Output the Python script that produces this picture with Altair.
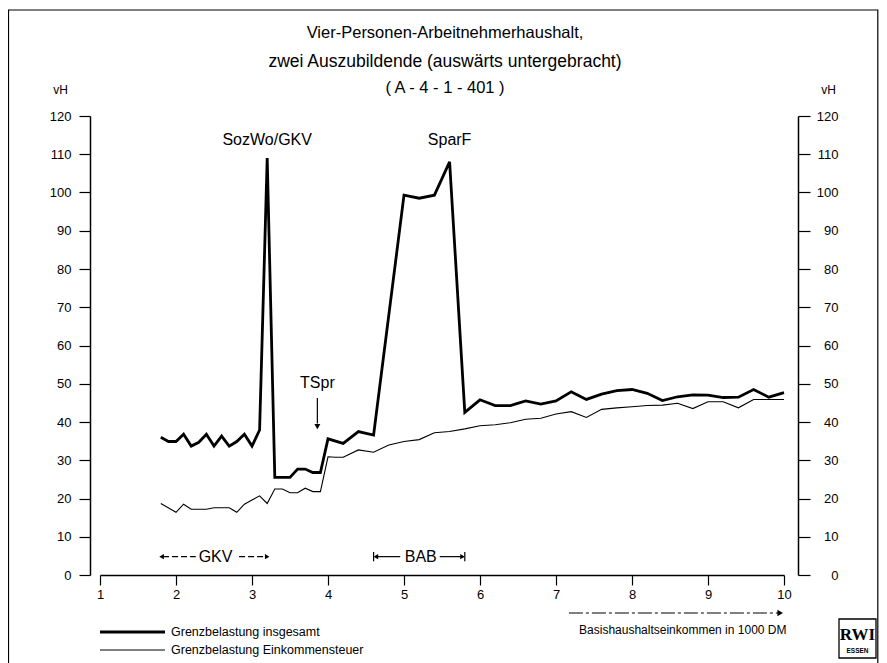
import altair as alt
import pandas as pd

# ---------------- data ----------------
x_total = [1.8, 1.9, 2.0, 2.1, 2.2, 2.3, 2.4, 2.5, 2.6, 2.7, 2.8, 2.9, 3.0, 3.1, 3.2,
           3.3, 3.4, 3.5, 3.6, 3.7, 3.8, 3.9, 4.0, 4.2, 4.4, 4.6, 5.0, 5.2, 5.4, 5.6,
           5.8, 6.0, 6.2, 6.4, 6.6, 6.8, 7.0, 7.2, 7.4, 7.6, 7.8, 8.0, 8.2, 8.4, 8.6,
           8.8, 9.0, 9.2, 9.4, 9.6, 9.8, 10.0]
y_total = [36.0, 34.9, 34.9, 36.8, 33.7, 34.7, 36.8, 33.7, 36.3, 33.7, 34.9, 36.8, 33.7, 37.9, 109.0,
           25.5, 25.5, 25.5, 27.7, 27.7, 26.8, 26.8, 35.6, 34.4, 37.5, 36.6, 99.3, 98.5, 99.3, 108.0,
           42.5, 45.8, 44.3, 44.3, 45.5, 44.7, 45.5, 47.9, 45.9, 47.3, 48.2, 48.5, 47.5, 45.6, 46.6,
           47.1, 47.0, 46.4, 46.5, 48.5, 46.5, 47.7]

x_tax = [1.8, 2.0, 2.1, 2.2, 2.3, 2.4, 2.5, 2.6, 2.7, 2.8, 2.9, 3.0, 3.1, 3.2, 3.3,
         3.4, 3.5, 3.6, 3.7, 3.8, 3.9, 4.0, 4.1, 4.2, 4.4, 4.6, 4.8, 5.0, 5.2, 5.4,
         5.6, 5.8, 6.0, 6.2, 6.4, 6.6, 6.8, 7.0, 7.2, 7.4, 7.6, 7.8, 8.0, 8.2, 8.4,
         8.6, 8.8, 9.0, 9.2, 9.4, 9.6, 9.8, 10.0]
y_tax = [18.7, 16.4, 18.5, 17.2, 17.2, 17.2, 17.6, 17.6, 17.6, 16.4, 18.5, 19.6, 20.7, 18.7, 22.5,
         22.5, 21.5, 21.5, 22.7, 21.8, 21.8, 30.9, 30.8, 30.8, 32.7, 32.1, 34.0, 34.9, 35.4, 37.2,
         37.5, 38.2, 39.0, 39.3, 39.8, 40.7, 41.0, 42.1, 42.7, 41.2, 43.3, 43.7, 44.0, 44.3, 44.4,
         44.9, 43.5, 45.3, 45.3, 43.7, 45.9, 45.9, 45.9]

x_ticks = [1, 2, 3, 4, 5, 6, 7, 8, 9, 10]
y_ticks = [0, 10, 20, 30, 40, 50, 60, 70, 80, 90, 100, 110, 120]

title_lines = ["Vier-Personen-Arbeitnehmerhaushalt,",
               "zwei Auszubildende (auswärts untergebracht)",
               "( A - 4 - 1 - 401 )"]
unit_label = "vH"
x_title = "Basishaushaltseinkommen in 1000 DM"
legend_labels = ["Grenzbelastung insgesamt", "Grenzbelastung Einkommensteuer"]

ann_text = ["SozWo/GKV", "SparF", "TSpr"]
ann_x = [3.2, 5.6, 3.86]
ann_y = [113.7, 113.7, 50.2]

tspr_arrow_x = [3.86]
tspr_arrow_y1 = [46.3]
tspr_arrow_y2 = [39.6]
tspr_head_y = [38.8]

span_text = ["GKV", "BAB"]
span_x = [2.52, 5.22]
span_y = [4.8, 4.8]

gkv_seg_x1 = [1.83, 2.83]
gkv_seg_x2 = [2.26, 3.18]
bab_seg_x1 = [4.62, 5.47]
bab_seg_x2 = [4.95, 5.78]
seg_y = [4.8, 4.8]
head_x = [1.81, 3.2, 4.63, 5.77]
head_y = [4.8, 4.8, 4.8, 4.8]
head_shape = ["triangle-left", "triangle-right", "triangle-left", "triangle-right"]
bab_bar_x = [4.60, 5.80]
bab_bar_y1 = [3.6, 3.6]
bab_bar_y2 = [6.0, 6.0]

income_arrow_x1 = [7.17]
income_arrow_x2 = [9.95]

logo_main = "RWI"
logo_sub = "ESSEN"

# ---------------- layout ----------------
W, H = 684, 459
FONT = "Liberation Sans, DejaVu Sans, sans-serif"

xs = alt.Scale(domain=[1, 10], nice=False, zero=False)
ys = alt.Scale(domain=[0, 120], nice=False, zero=False)

common_axis = dict(grid=False, domainColor="black", tickColor="black", labelColor="black",
                   titleColor="black", labelFont=FONT, titleFont=FONT, labelFontSize=13,
                   titleFontSize=12, titleFontWeight="normal", domainWidth=1.5, tickWidth=1.2)

x_axis = alt.Axis(values=x_ticks, format="d", tickSize=10, labelPadding=3, labelFlush=False,
                  title=x_title, titleX=686, titleY=54, titleAlign="right",
                  titleBaseline="middle", **common_axis)
left_axis = alt.Axis(orient="left", values=y_ticks, offset=10, tickSize=11, labelPadding=8,
                     labelFlush=False, title=unit_label, titleAngle=0, titleX=-30, titleY=-27,
                     titleAlign="center", titleBaseline="middle", **common_axis)
right_axis = alt.Axis(orient="right", values=y_ticks, offset=14, tickSize=12, labelPadding=28,
                      labelAlign="right", labelFlush=False, title=unit_label, titleAngle=0,
                      titleX=30, titleY=-27, titleAlign="center", titleBaseline="middle",
                      **common_axis)


def xq(f):
    return alt.X(f + ":Q", scale=xs, axis=x_axis)


def yq(f):
    return alt.Y(f + ":Q", scale=ys, axis=None)


total_df = pd.DataFrame({"x": x_total, "y": y_total})
tax_df = pd.DataFrame({"x": x_tax, "y": y_tax})

thick = alt.Chart(total_df).mark_line(color="black", strokeWidth=2.8, strokeJoin="miter").encode(
    x=xq("x"),
    y=alt.Y("y:Q", scale=ys, axis=left_axis),
)
thin = alt.Chart(tax_df).mark_line(color="black", strokeWidth=1.1, strokeJoin="miter").encode(
    x=xq("x"),
    y=alt.Y("y:Q", scale=ys, axis=right_axis),
)

# annotations
ann_df = pd.DataFrame({"t": ann_text, "x": ann_x, "y": ann_y})
ann = alt.Chart(ann_df).mark_text(font=FONT, fontSize=16, color="black", baseline="middle").encode(
    x=xq("x"), y=yq("y"), text="t:N")

tspr_df = pd.DataFrame({"x": tspr_arrow_x, "y1": tspr_arrow_y1, "y2": tspr_arrow_y2, "yh": tspr_head_y})
tspr_rule = alt.Chart(tspr_df).mark_rule(color="black", strokeWidth=1.2).encode(
    x=xq("x"), y=yq("y1"), y2="y2:Q")
tspr_head = alt.Chart(tspr_df).mark_point(shape="triangle-down", filled=True, color="black",
                                          size=35, opacity=1).encode(x=xq("x"), y=yq("yh"))

span_df = pd.DataFrame({"t": span_text, "x": span_x, "y": span_y})
span = alt.Chart(span_df).mark_text(font=FONT, fontSize=16, color="black", baseline="middle").encode(
    x=xq("x"), y=yq("y"), text="t:N")

gkv_df = pd.DataFrame({"x1": gkv_seg_x1, "x2": gkv_seg_x2, "y": seg_y})
gkv_rule = alt.Chart(gkv_df).mark_rule(color="black", strokeWidth=1.2, strokeDash=[6, 3]).encode(
    x=xq("x1"), x2="x2:Q", y=yq("y"))
bab_df = pd.DataFrame({"x1": bab_seg_x1, "x2": bab_seg_x2, "y": seg_y})
bab_rule = alt.Chart(bab_df).mark_rule(color="black", strokeWidth=1.2).encode(
    x=xq("x1"), x2="x2:Q", y=yq("y"))
head_df = pd.DataFrame({"x": head_x, "y": head_y, "s": head_shape})
heads = alt.Chart(head_df).mark_point(filled=True, color="black", size=28, opacity=1).encode(
    x=xq("x"), y=yq("y"), shape=alt.Shape("s:N", scale=None, legend=None))
bar_df = pd.DataFrame({"x": bab_bar_x, "y1": bab_bar_y1, "y2": bab_bar_y2})
bars = alt.Chart(bar_df).mark_rule(color="black", strokeWidth=1.2).encode(
    x=xq("x"), y=yq("y1"), y2="y2:Q")

# income arrow under the x axis
inc_df = pd.DataFrame({"x1": income_arrow_x1, "x2": income_arrow_x2})
inc_rule = alt.Chart(inc_df).mark_rule(color="black", strokeWidth=1.2, strokeDash=[14, 3, 3, 3]).encode(
    x=xq("x1"), x2="x2:Q", y=alt.value(497))
inc_head = alt.Chart(inc_df).mark_point(shape="triangle-right", filled=True, color="black",
                                        size=40, opacity=1).encode(x=xq("x2"), y=alt.value(497))


def text_layer(txt, x, y, size, font=FONT, weight="normal", align="center"):
    return alt.Chart(pd.DataFrame({"t": [txt]})).mark_text(
        font=font, fontSize=size, fontWeight=weight, color="black", align=align,
        baseline="middle").encode(x=alt.value(x), y=alt.value(y), text="t:N")


# title
t1 = text_layer(title_lines[0], 345, -83, 16.5)
t2 = text_layer(title_lines[1], 345, -54, 17.5)
t3 = text_layer(title_lines[2], 345, -28, 16.5)

# legend
leg_df = pd.DataFrame({"t": legend_labels})
leg_thick = alt.Chart(leg_df.iloc[[0]]).mark_rule(color="black", strokeWidth=2.8).encode(
    x=alt.value(0), x2=alt.value(65), y=alt.value(516))
leg_thin = alt.Chart(leg_df.iloc[[1]]).mark_rule(color="black", strokeWidth=1.1).encode(
    x=alt.value(0), x2=alt.value(65), y=alt.value(534))
leg_t1 = text_layer(legend_labels[0], 71, 516, 12.5, align="left")
leg_t2 = text_layer(legend_labels[1], 71, 534, 12.5, align="left")

# logo
logo_box = alt.Chart(pd.DataFrame({"t": [logo_main]})).mark_rect(
    fill="white", stroke="black", strokeWidth=1.3).encode(
    x=alt.value(739), x2=alt.value(776), y=alt.value(503), y2=alt.value(542))
logo_t = text_layer(logo_main, 757.5, 519, 17, font="Liberation Serif, DejaVu Serif, serif", weight="bold")
logo_s = text_layer(logo_sub, 757.5, 535, 6.5, weight="bold")

# outer frame
frame = alt.Chart(pd.DataFrame({"t": ["frame"]})).mark_rect(
    fillOpacity=0, stroke="black", strokeWidth=1.2).encode(
    x=alt.value(-91.5), x2=alt.value(777.8), y=alt.value(-106), y2=alt.value(570))

chart = alt.layer(
    frame, thick, thin, ann, tspr_rule, tspr_head, span, gkv_rule, bab_rule, heads, bars,
    inc_rule, inc_head, t1, t2, t3, leg_thick, leg_thin, leg_t1, leg_t2, logo_box, logo_t, logo_s,
).resolve_scale(y="independent").properties(
    width=W, height=H,
    background="white",
    autosize=alt.AutoSizeParams(type="none"),
    padding={"left": 92, "top": 108, "right": 95, "bottom": 88},
).configure_view(stroke=None)

chart.save("out.html", embed_options={"renderer": "svg", "actions": False})
